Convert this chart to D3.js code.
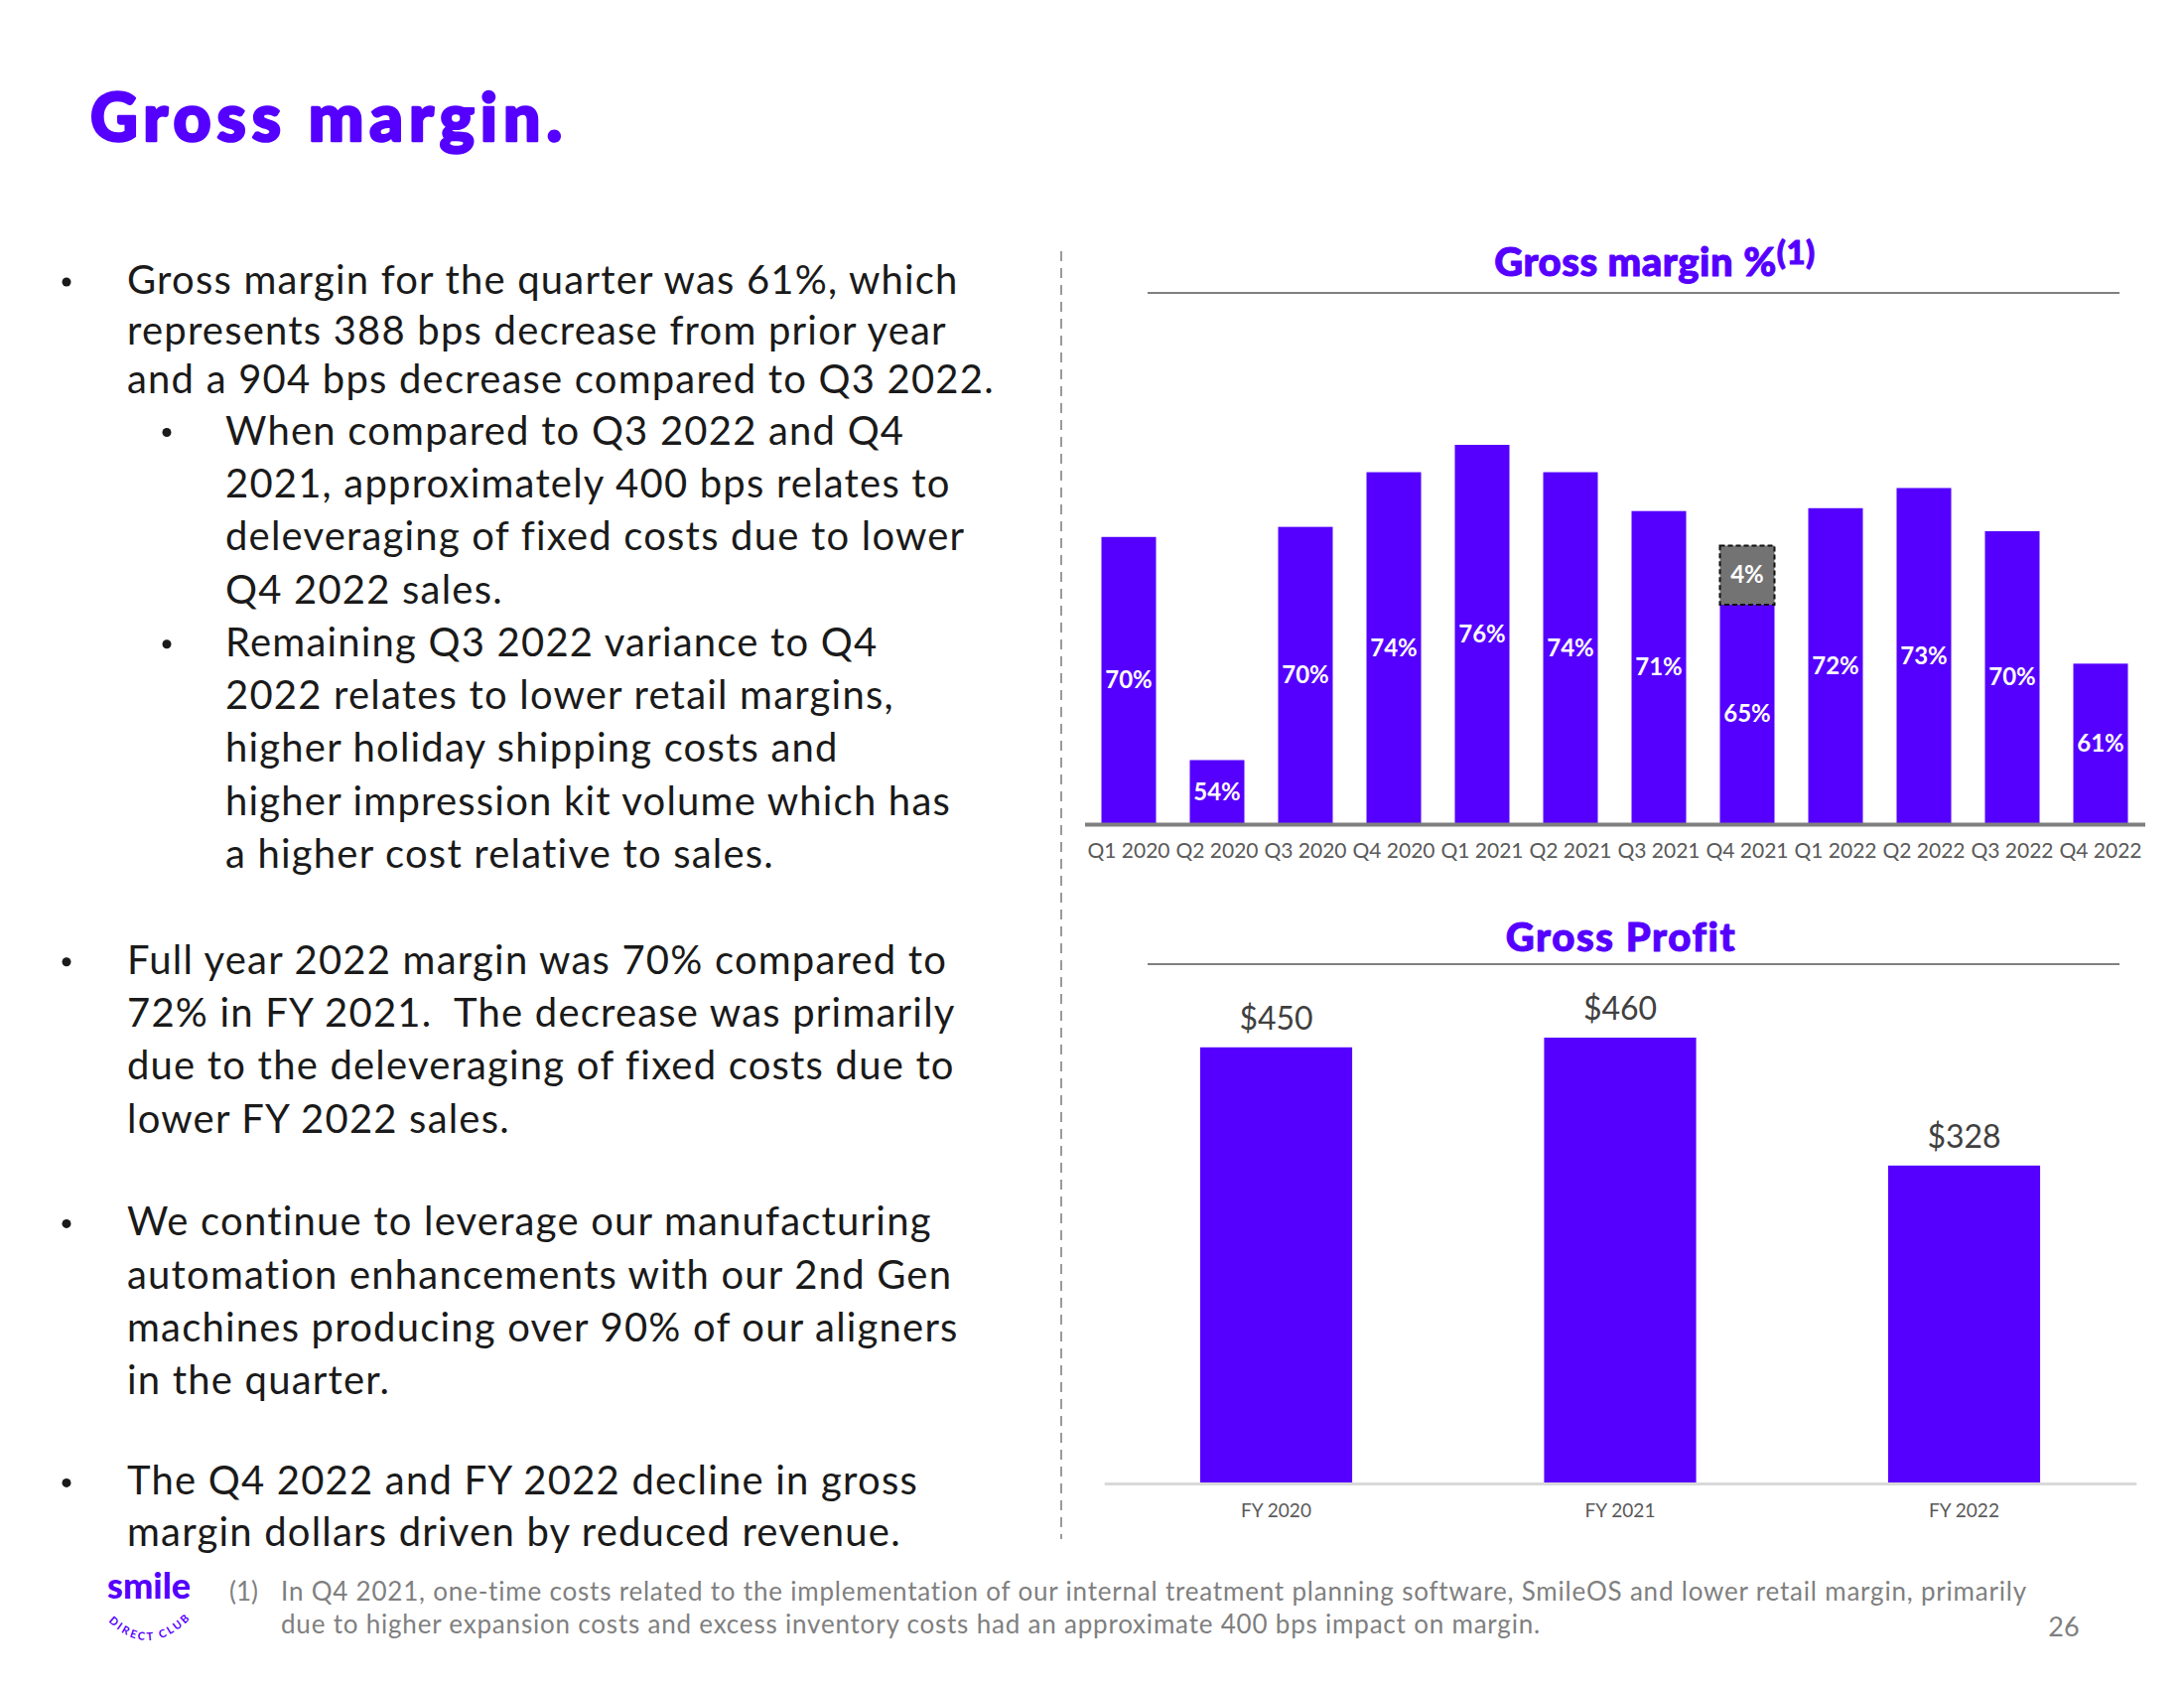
<!DOCTYPE html>
<html>
<head>
<meta charset="utf-8">
<script src="https://cdn.jsdelivr.net/npm/d3@7"></script>
<style>
  html, body { margin: 0; padding: 0; background: #ffffff; }
  svg { display: block; }
</style>
</head>
<body>
<svg id="chart" width="2200" height="1700"></svg>
<script>
// ---------------- DATA ----------------
const quarters = ["Q1 2020", "Q2 2020", "Q3 2020", "Q4 2020", "Q1 2021", "Q2 2021",
                  "Q3 2021", "Q4 2021", "Q1 2022", "Q2 2022", "Q3 2022", "Q4 2022"];
const marginValues = [69.6, 54.1, 70.3, 74.1, 76.0, 74.1, 71.4, 64.9, 71.6, 73.0, 70.0, 60.8];
const marginLabels = ["70%", "54%", "70%", "74%", "76%", "74%", "71%", "65%", "72%", "73%", "70%", "61%"];
const oneTimeImpact = [0, 0, 0, 0, 0, 0, 0, 4.1, 0, 0, 0, 0];
const oneTimeLabels = ["", "", "", "", "", "", "", "4%", "", "", "", ""];

const fiscalYears = ["FY 2020", "FY 2021", "FY 2022"];
const grossProfit = [450, 460, 328];
const grossProfitLabels = ["$450", "$460", "$328"];

const bullets = [
  { level: 0, lines: ["Gross margin for the quarter was 61%, which",
                      "represents 388 bps decrease from prior year",
                      "and a 904 bps decrease compared to Q3 2022."] },
  { level: 1, lines: ["When compared to Q3 2022 and Q4",
                      "2021, approximately 400 bps relates to",
                      "deleveraging of fixed costs due to lower",
                      "Q4 2022 sales."] },
  { level: 1, lines: ["Remaining Q3 2022 variance to Q4",
                      "2022 relates to lower retail margins,",
                      "higher holiday shipping costs and",
                      "higher impression kit volume which has",
                      "a higher cost relative to sales."] },
  { level: 0, lines: ["Full year 2022 margin was 70% compared to",
                      "72% in FY 2021.  The decrease was primarily",
                      "due to the deleveraging of fixed costs due to",
                      "lower FY 2022 sales."] },
  { level: 0, lines: ["We continue to leverage our manufacturing",
                      "automation enhancements with our 2nd Gen",
                      "machines producing over 90% of our aligners",
                      "in the quarter."] },
  { level: 0, lines: ["The Q4 2022 and FY 2022 decline in gross",
                      "margin dollars driven by reduced revenue."] }
];
const bulletLineCenters = [
  [282, 332.5, 381.6],
  [433.5, 486.8, 540, 593.5],
  [646.8, 700, 753.4, 806.7, 860],
  [966.7, 1020, 1073, 1126.6],
  [1230.4, 1283.7, 1337, 1390.4],
  [1491.4, 1543.3]
];
const footnoteLines = [
  "In Q4 2021, one-time costs related to the implementation of our internal treatment planning software, SmileOS and lower retail margin, primarily",
  "due to higher expansion costs and excess inventory costs had an approximate 400 bps impact on margin."
];

// ---------------- STYLE ----------------
const PURPLE = "#5500ff";
const BODY_FONT = "Lato, 'Open Sans', sans-serif";
const svg = d3.select("#chart");

// Page title
svg.append("text")
  .attr("x", 91).attr("y", 142)
  .attr("font-family", BODY_FONT).attr("font-weight", 900)
  .attr("font-size", 66).attr("letter-spacing", 6).attr("fill", PURPLE)
  .attr("stroke", PURPLE).attr("stroke-width", 2.6).attr("stroke-linejoin", "round")
  .text("Gross margin.");

// Left bullets
const bodySize = 40;
bullets.forEach((b, i) => {
  const textX = b.level === 0 ? 128 : 227;
  const dotX = b.level === 0 ? 67 : 168;
  svg.append("circle")
    .attr("cx", dotX).attr("cy", bulletLineCenters[i][0] + 2)
    .attr("r", 4.5).attr("fill", "#1a1a1a");
  b.lines.forEach((line, j) => {
    svg.append("text")
      .attr("x", textX).attr("y", bulletLineCenters[i][j] + 14)
      .attr("font-family", BODY_FONT).attr("font-size", bodySize)
      .attr("letter-spacing", 1.2)
      .attr("fill", "#1a1a1a")
      .style("white-space", "pre")
      .text(line);
  });
});

// Divider
svg.append("line")
  .attr("x1", 1069).attr("x2", 1069).attr("y1", 253).attr("y2", 1550)
  .attr("stroke", "#9a9a9a").attr("stroke-width", 2)
  .attr("stroke-dasharray", "10,7");

// ---------------- TOP CHART ----------------
const topTitle = svg.append("text")
  .attr("x", 1667).attr("y", 278)
  .attr("text-anchor", "middle")
  .attr("font-family", BODY_FONT).attr("font-weight", 900)
  .attr("font-size", 40).attr("letter-spacing", 0.5).attr("fill", PURPLE)
  .attr("stroke", PURPLE).attr("stroke-width", 1).attr("stroke-linejoin", "round");
topTitle.append("tspan").text("Gross margin %");
topTitle.append("tspan").attr("font-size", 33).attr("dy", -12).text("(1)");

svg.append("line")
  .attr("x1", 1156).attr("x2", 2135).attr("y1", 295).attr("y2", 295)
  .attr("stroke", "#808080").attr("stroke-width", 2);

const xTop = d3.scaleBand().domain(quarters).range([1092.5, 2160.5])
  .paddingInner(0.382).paddingOuter(0.191);
const yTop = d3.scaleLinear().domain([49.65, 76.0]).range([830, 448]);

const topData = quarters.map((q, i) => ({
  q, v: marginValues[i], label: marginLabels[i],
  extra: oneTimeImpact[i], extraLabel: oneTimeLabels[i]
}));

svg.append("g").selectAll("rect").data(topData).join("rect")
  .attr("x", d => xTop(d.q)).attr("width", xTop.bandwidth())
  .attr("y", d => yTop(d.v)).attr("height", d => yTop(yTop.domain()[0]) - yTop(d.v))
  .attr("fill", PURPLE);

svg.append("g").selectAll("rect").data(topData.filter(d => d.extra > 0)).join("rect")
  .attr("x", d => xTop(d.q)).attr("width", xTop.bandwidth())
  .attr("y", d => yTop(d.v + d.extra)).attr("height", d => yTop(d.v) - yTop(d.v + d.extra))
  .attr("fill", "#737373").attr("stroke", "#111").attr("stroke-width", 2)
  .attr("stroke-dasharray", "5,3");

svg.append("g").selectAll("text").data(topData).join("text")
  .attr("x", d => xTop(d.q) + xTop.bandwidth() / 2)
  .attr("y", d => (yTop(d.v) + yTop(yTop.domain()[0])) / 2 + 8)
  .attr("text-anchor", "middle")
  .attr("font-family", BODY_FONT).attr("font-weight", 700)
  .attr("font-size", 24).attr("fill", "#ffffff")
  .text(d => d.label);

svg.append("g").selectAll("text").data(topData.filter(d => d.extra > 0)).join("text")
  .attr("x", d => xTop(d.q) + xTop.bandwidth() / 2)
  .attr("y", d => (yTop(d.v) + yTop(d.v + d.extra)) / 2 + 8)
  .attr("text-anchor", "middle")
  .attr("font-family", BODY_FONT).attr("font-weight", 700)
  .attr("font-size", 24).attr("fill", "#ffffff")
  .text(d => d.extraLabel);

const xTopAxis = svg.append("g")
  .attr("transform", `translate(0, ${yTop(yTop.domain()[0])})`)
  .call(d3.axisBottom(xTop).tickSize(0).tickPadding(19));
xTopAxis.select(".domain").attr("stroke", "#7f7f7f").attr("stroke-width", 4);
xTopAxis.selectAll("text")
  .attr("font-family", BODY_FONT).attr("font-size", 21).attr("fill", "#595959");

// ---------------- BOTTOM CHART ----------------
svg.append("text")
  .attr("x", 1633).attr("y", 958)
  .attr("text-anchor", "middle")
  .attr("font-family", BODY_FONT).attr("font-weight", 900)
  .attr("font-size", 40).attr("letter-spacing", 1.6).attr("fill", PURPLE)
  .attr("stroke", PURPLE).attr("stroke-width", 1).attr("stroke-linejoin", "round")
  .text("Gross Profit");

svg.append("line")
  .attr("x1", 1156).attr("x2", 2135).attr("y1", 971).attr("y2", 971)
  .attr("stroke", "#808080").attr("stroke-width", 2);

const xBot = d3.scaleBand().domain(fiscalYears).range([1112.25, 2151.75])
  .paddingInner(0.558).paddingOuter(0.279);
const yBot = d3.scaleLinear().domain([0, 460]).range([1494, 1045]);

const botData = fiscalYears.map((y, i) => ({ y, v: grossProfit[i], label: grossProfitLabels[i] }));

svg.append("g").selectAll("rect").data(botData).join("rect")
  .attr("x", d => xBot(d.y)).attr("width", xBot.bandwidth())
  .attr("y", d => yBot(d.v)).attr("height", d => yBot(0) - yBot(d.v))
  .attr("fill", PURPLE);

svg.append("g").selectAll("text").data(botData).join("text")
  .attr("x", d => xBot(d.y) + xBot.bandwidth() / 2)
  .attr("y", d => yBot(d.v) - 18)
  .attr("text-anchor", "middle")
  .attr("font-family", BODY_FONT).attr("font-size", 32).attr("fill", "#404040")
  .text(d => d.label);

const xBotAxis = svg.append("g")
  .attr("transform", `translate(0, ${yBot(0)})`)
  .call(d3.axisBottom(xBot).tickSize(0).tickPadding(21));
xBotAxis.select(".domain").attr("stroke", "#d9d9d9").attr("stroke-width", 3);
xBotAxis.selectAll("text")
  .attr("font-family", BODY_FONT).attr("font-size", 19).attr("fill", "#595959");

// ---------------- FOOTER ----------------
svg.append("text")
  .attr("x", 108).attr("y", 1610)
  .attr("font-family", BODY_FONT).attr("font-weight", 900)
  .attr("font-size", 36).attr("fill", PURPLE)
  .text("smile");
svg.append("defs").append("path")
  .attr("id", "logoArc")
  .attr("d", "M106,1630 Q150,1676 196,1626");
svg.append("text")
  .attr("font-family", BODY_FONT).attr("font-weight", 700)
  .attr("font-size", 11).attr("fill", PURPLE).attr("letter-spacing", 2.5)
  .append("textPath").attr("href", "#logoArc").attr("startOffset", "50%")
  .attr("text-anchor", "middle")
  .text("DIRECT CLUB");

svg.append("text")
  .attr("x", 231).attr("y", 1612)
  .attr("font-family", BODY_FONT).attr("font-size", 26).attr("fill", "#7f7f7f")
  .text("(1)");
footnoteLines.forEach((line, i) => {
  svg.append("text")
    .attr("x", 283).attr("y", 1612 + i * 33)
    .attr("font-family", BODY_FONT).attr("font-size", 26).attr("letter-spacing", 0.8)
    .attr("fill", "#7f7f7f")
    .text(line);
});
svg.append("text")
  .attr("x", 2079).attr("y", 1648).attr("text-anchor", "middle")
  .attr("font-family", BODY_FONT).attr("font-size", 27).attr("fill", "#7f7f7f")
  .text("26");
</script>
</body>
</html>
